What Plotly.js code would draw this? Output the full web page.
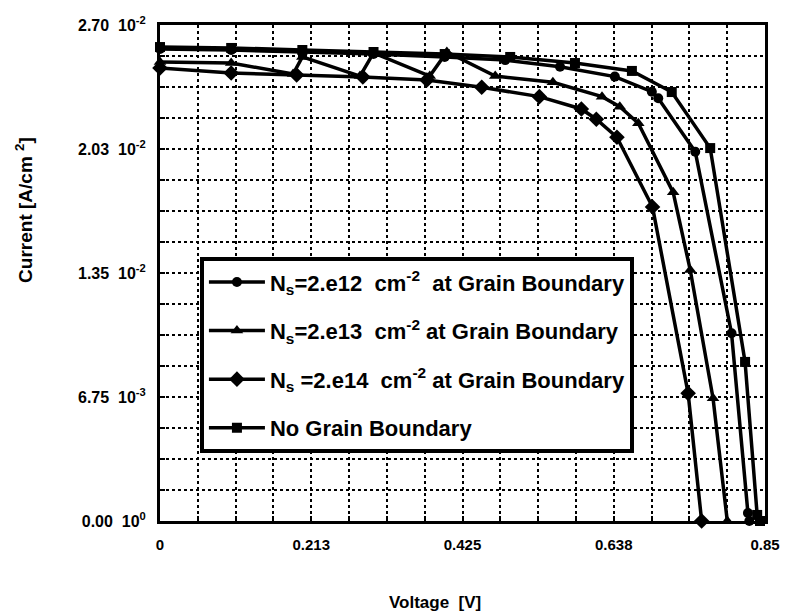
<!DOCTYPE html>
<html>
<head>
<meta charset="utf-8">
<script src="https://cdn.plot.ly/plotly-3.0.1.min.js"></script>
<style>html,body{margin:0;padding:0;background:#fff;}#chart{width:790px;height:616px;}</style>
</head>
<body>
<div id="chart"></div>
<script>
// Voltage [V] and current [A/cm^2]
const V_2e12 = [0, 0.1, 0.2, 0.3, 0.4, 0.485, 0.562, 0.639, 0.691, 0.700, 0.752, 0.803, 0.826, 0.828];
const I_2e12 = [0.02569, 0.02564, 0.02553, 0.02542, 0.02526, 0.02509, 0.02473, 0.02419, 0.02337, 0.02301, 0.02010, 0.01022, 0.00044, 0];

const V_2e13 = [0, 0.1, 0.187, 0.2, 0.281, 0.3, 0.379, 0.403, 0.471, 0.552, 0.621, 0.646, 0.672, 0.721, 0.745, 0.777, 0.797];
const I_2e13 = [0.02499, 0.02493, 0.02433, 0.02526, 0.02422, 0.02548, 0.02422, 0.02553, 0.02422, 0.02388, 0.02310, 0.02255, 0.02165, 0.01789, 0.01366, 0.00668, 0];

const V_2e14 = [0, 0.1, 0.192, 0.285, 0.375, 0.452, 0.533, 0.592, 0.613, 0.642, 0.692, 0.742, 0.761];
const I_2e14 = [0.02466, 0.02439, 0.02428, 0.02417, 0.02401, 0.02361, 0.02310, 0.02243, 0.02187, 0.02089, 0.01709, 0.00695, 0];

const V_noGB = [0, 0.1, 0.2, 0.3, 0.4, 0.492, 0.583, 0.663, 0.719, 0.773, 0.822, 0.839, 0.843];
const I_noGB = [0.02580, 0.02575, 0.02564, 0.02553, 0.02542, 0.02526, 0.02493, 0.02450, 0.02335, 0.02030, 0.00866, 0.00033, 0];

const seriesNames = [
  'N<sub>s</sub>=2.e12  cm<sup>-2</sup>  at Grain Boundary',
  'N<sub>s</sub>=2.e13  cm<sup>-2</sup> at Grain Boundary',
  'N<sub>s</sub> =2.e14  cm<sup>-2</sup> at Grain Boundary',
  'No Grain Boundary'
];

// Axis ticks (every grid line; labelled ones carry text)
const xTickVals = [0, 0.053125, 0.10625, 0.159375, 0.2125, 0.265625, 0.31875, 0.371875, 0.425, 0.478125, 0.53125, 0.584375, 0.6375, 0.690625, 0.74375, 0.796875, 0.85];
const xTickText = ['0', '', '', '', '0.213', '', '', '', '0.425', '', '', '', '0.638', '', '', '', '0.85'];
const yTickVals = [0, 0.0016875, 0.003375, 0.0050625, 0.00675, 0.0084375, 0.010125, 0.0118125, 0.0135, 0.0151875, 0.016875, 0.0185625, 0.02025, 0.0219375, 0.023625, 0.0253125, 0.027];
const yTickText = ['0.00\u00a0\u00a010<sup>0</sup>', '', '', '', '6.75\u00a0\u00a010<sup>-3</sup>', '', '', '', '1.35\u00a0\u00a010<sup>-2</sup>', '', '', '', '2.03\u00a0\u00a010<sup>-2</sup>', '', '', '', '2.70\u00a0\u00a010<sup>-2</sup>'];

const FONT = 'Liberation Sans, Arial, Helvetica, sans-serif';

function mk(x, y, name, symbol, size, grp) {
  return {
    x: x, y: y, name: name, type: 'scatter', mode: 'lines+markers',
    legendgroup: grp, cliponaxis: false,
    line: {color: '#000', width: 3.5},
    marker: {symbol: symbol, size: size, color: '#000'}
  };
}

const data = [
  mk(V_2e12, I_2e12, seriesNames[0], 'circle', 10, 'g1'),
  mk(V_2e13, I_2e13, seriesNames[1], 'triangle-up', 11, 'g2'),
  mk(V_2e14, I_2e14, seriesNames[2], 'diamond', 12, 'g3'),
  mk(V_noGB, I_noGB, seriesNames[3], 'square', 10, 'g4')
];

const axisCommon = {
  showline: true, mirror: true, linecolor: '#000', linewidth: 3,
  ticks: 'inside', ticklen: 5, tickwidth: 2, tickcolor: '#000',
  showgrid: true, gridcolor: '#000', gridwidth: 2, griddash: 'dot',
  zeroline: false, tickmode: 'array',
  ticklabelstandoff: 8
};

const layout = {
  width: 790, height: 616,
  margin: {l: 160, r: 25, t: 25, b: 95},
  paper_bgcolor: '#fff', plot_bgcolor: '#fff',
  font: {family: FONT, color: '#000', weight: 'bold'},
  xaxis: Object.assign({}, axisCommon, {range: [0, 0.85], tickvals: xTickVals, ticktext: xTickText,
    tickfont: {family: FONT, size: 15, color: '#000', weight: 'bold'}}),
  yaxis: Object.assign({}, axisCommon, {range: [0, 0.027], tickvals: yTickVals, ticktext: yTickText,
    tickfont: {family: FONT, size: 16, color: '#000', weight: 'bold'}}),
  showlegend: true,
  legend: {
    x: 0.066, y: 0.532, xanchor: 'left', yanchor: 'top',
    bgcolor: '#fff', bordercolor: '#000', borderwidth: 4,
    font: {family: FONT, size: 22, color: '#000', weight: 'bold'},
    traceorder: 'grouped', tracegroupgap: 17, itemwidth: 56
  },
  annotations: [
    {text: 'Voltage  [V]', xref: 'paper', yref: 'paper', x: 0.455, y: -0.165,
     xanchor: 'center', yanchor: 'middle', showarrow: false,
     font: {family: FONT, size: 17, color: '#000', weight: 'bold'}},
    {text: 'Current [A/cm <sup>2</sup>]', xref: 'paper', yref: 'paper', x: -0.225, y: 0.627,
     xanchor: 'center', yanchor: 'middle', textangle: -90, showarrow: false,
     font: {family: FONT, size: 19, color: '#000', weight: 'bold'}}
  ]
};

Plotly.newPlot('chart', data, layout, {displayModeBar: false, staticPlot: true});
</script>
</body>
</html>
